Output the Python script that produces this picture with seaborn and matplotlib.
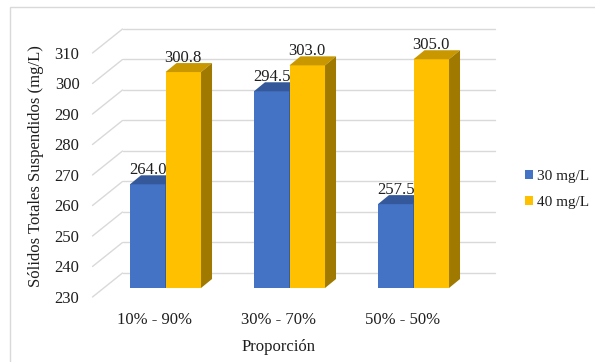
import matplotlib
matplotlib.use("Agg")
import matplotlib.pyplot as plt
from matplotlib.patches import Polygon, Rectangle
from matplotlib.transforms import ScaledTranslation
import pandas as pd
import seaborn as sns

# ---- data -------------------------------------------------------------
categorias = ["10% - 90%", "30% - 70%", "50% - 50%"]
dosis = ["30 mg/L", "40 mg/L"]
solidos_30 = [264.0, 294.5, 257.5]
solidos_40 = [300.8, 303.0, 305.0]
y_ticks = [230, 240, 250, 260, 270, 280, 290, 300, 310]

df = pd.DataFrame({
    "Proporción": categorias * 2,
    "Dosis": [dosis[0]] * 3 + [dosis[1]] * 3,
    "STS": solidos_30 + solidos_40,
})

# ---- styling -----------------------------------------------------------
W, H, DPI = 595, 362, 100
sns.set_theme(style="white")
plt.rcParams["font.family"] = ["Liberation Serif", "DejaVu Serif"]
TXT = "#1f1f1f"
GRID = "#d9d9d9"
front_cols = ["#4472C4", "#FFC000"]
top_cols = ["#34589A", "#C99700"]
side_cols = ["#2C4A85", "#A07A00"]

fig = plt.figure(figsize=(W / DPI, H / DPI), dpi=DPI)
fig.patch.set_facecolor("white")

# plane where the bar fronts sit (pixel box)
L, R, T, B = 103.5, 475.5, 44.0, 288.0
ax = fig.add_axes([L / W, 1 - B / H, (R - L) / W, (B - T) / H])
ymin, ymax = y_ticks[0], y_ticks[-1]
px_x = (R - L) / 3.0
px_y = (B - T) / (ymax - ymin)

def off(dx_px, dy_px):
    """pixel offset (right, down) -> data units"""
    return dx_px / px_x, -dy_px / px_y

front_dx, front_dy = off(-11.0, 9.0)
back_dx, back_dy = off(19.0, -15.0)
bar_dx, bar_dy = off(11.0, -9.0)

sns.barplot(data=df, x="Proporción", y="STS", hue="Dosis", palette=front_cols,
            width=0.573, saturation=1, linewidth=0, ax=ax, legend=True)
ax.set_xlim(-0.5, 2.5)
ax.set_ylim(ymin, ymax)
for s in ax.spines.values():
    s.set_visible(False)
ax.set_facecolor("none")

# walls: back gridlines and side diagonals
for t in y_ticks:
    ax.plot([-0.5 + back_dx, 2.5 + back_dx], [t + back_dy, t + back_dy],
            color=GRID, lw=1.0, zorder=0.5, clip_on=False)
    ax.plot([-0.5 + front_dx, -0.5 + back_dx], [t + front_dy, t + back_dy],
            color=GRID, lw=1.0, zorder=0.5, clip_on=False)

# 3D faces and value labels
for i, cont in enumerate(ax.containers):
    z = 2 + i
    for bar in cont.patches:
        bar.set_zorder(z)
        x0 = bar.get_x()
        x1 = x0 + bar.get_width()
        v = bar.get_y() + bar.get_height()
        top = Polygon([(x0, v), (x1, v), (x1 + bar_dx, v + bar_dy), (x0 + bar_dx, v + bar_dy)],
                      closed=True, facecolor=top_cols[i], edgecolor="none",
                      zorder=z, clip_on=False)
        side = Polygon([(x1, ymin), (x1, v), (x1 + bar_dx, v + bar_dy), (x1 + bar_dx, ymin + bar_dy)],
                       closed=True, facecolor=side_cols[i], edgecolor="none",
                       zorder=z, clip_on=False)
        ax.add_patch(top)
        ax.add_patch(side)
        ax.text((x0 + x1) / 2, v + bar_dy + 1.5 / px_y, f"{v:.1f}", ha="center",
                va="baseline", fontsize=12, color=TXT, zorder=z + 0.5, clip_on=False)

# ticks and labels placed on the front plane
ax.set_yticks(y_ticks)
ax.set_yticklabels([str(t) for t in y_ticks])
ax.tick_params(axis="both", length=0, labelsize=12, labelcolor=TXT)
ax.tick_params(axis="y", pad=9.4)
ax.tick_params(axis="x", pad=11)
shift = ScaledTranslation(-11.0 / DPI, -9.0 / DPI, fig.dpi_scale_trans)
for lab in ax.get_xticklabels() + ax.get_yticklabels():
    lab.set_transform(lab.get_transform() + shift)
ax.set_xlabel("Proporción", fontsize=12, color=TXT, labelpad=1.2)
ax.set_ylabel("Sólidos Totales Suspendidos (mg/L)", fontsize=12, color=TXT, labelpad=7.5)
ax.xaxis.label.set_transform(ax.xaxis.label.get_transform() + shift)

# legend
handles, labels = ax.get_legend_handles_labels()
ax.legend(handles, labels, loc="center left", bbox_to_anchor=(525 / W, 1 - 189.5 / H),
          bbox_transform=fig.transFigure, frameon=False, fontsize=11,
          handlelength=0.55, handleheight=0.55, handletextpad=0.25,
          labelspacing=0.85, borderpad=0, borderaxespad=0, labelcolor=TXT)

# chart area border
fig.add_artist(Rectangle((10 / W, -0.1), 1.2, 1.1 - 7 / H, transform=fig.transFigure,
                         facecolor="none", edgecolor=GRID, lw=1.0, zorder=0))

fig.savefig("out.png", dpi=DPI, facecolor="white")
